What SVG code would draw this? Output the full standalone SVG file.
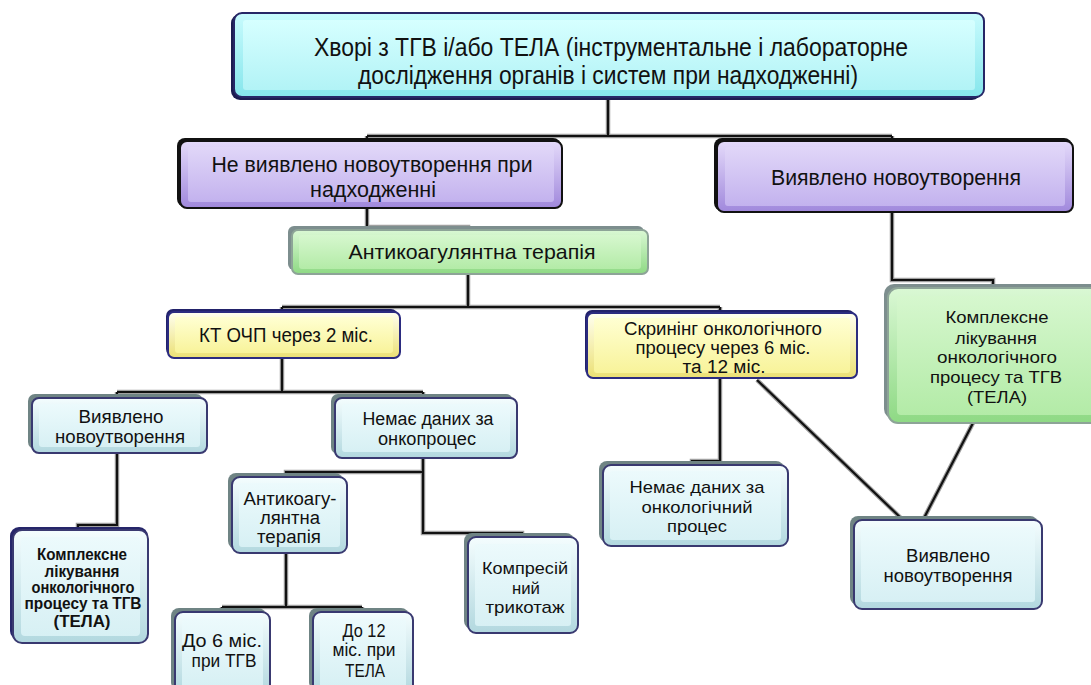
<svg xmlns="http://www.w3.org/2000/svg" width="1091" height="685" viewBox="0 0 1091 685">
<defs>
<linearGradient id="eCy" x1="0" y1="0" x2="0" y2="1"><stop offset="0" stop-color="#c8fbfd"/><stop offset="1" stop-color="#86e6ec"/></linearGradient>
<linearGradient id="fCy" x1="0" y1="0" x2="0" y2="1"><stop offset="0" stop-color="#d6ffff"/><stop offset="1" stop-color="#b2f3f6"/></linearGradient>
<linearGradient id="ePu" x1="0" y1="0" x2="0" y2="1"><stop offset="0" stop-color="#e4dafa"/><stop offset="1" stop-color="#a088dc"/></linearGradient>
<linearGradient id="fPu" x1="0" y1="0" x2="0" y2="1"><stop offset="0" stop-color="#e0d6f8"/><stop offset="1" stop-color="#c3b2ee"/></linearGradient>
<linearGradient id="eGr" x1="0" y1="0" x2="0" y2="1"><stop offset="0" stop-color="#daf8d4"/><stop offset="1" stop-color="#8ed984"/></linearGradient>
<linearGradient id="fGr" x1="0" y1="0" x2="0" y2="1"><stop offset="0" stop-color="#d6f7ce"/><stop offset="1" stop-color="#b3eba7"/></linearGradient>
<linearGradient id="eYe" x1="0" y1="0" x2="0" y2="1"><stop offset="0" stop-color="#fffff0"/><stop offset="1" stop-color="#ebe074"/></linearGradient>
<linearGradient id="fYe" x1="0" y1="0" x2="0" y2="1"><stop offset="0" stop-color="#ffffd2"/><stop offset="1" stop-color="#f8f39a"/></linearGradient>
<linearGradient id="eBl" x1="0" y1="0" x2="0" y2="1"><stop offset="0" stop-color="#f4fdfe"/><stop offset="1" stop-color="#b2d8df"/></linearGradient>
<linearGradient id="fBl" x1="0" y1="0" x2="0" y2="1"><stop offset="0" stop-color="#ecfafc"/><stop offset="1" stop-color="#d7f0f4"/></linearGradient>
</defs>
<style>
text{font-family:"Liberation Sans",Arial,sans-serif;fill:#111;text-anchor:middle}
.t26{font-size:26px}.t22{font-size:22px}.t21{font-size:21px}.t20{font-size:20px}.t19{font-size:19px}.t18{font-size:18px}.t17{font-size:17px}.tb{font-size:16px;font-weight:bold}
.o{stroke-width:2}
.f{stroke:none}
.cy .o{fill:url(#eCy);stroke:#262666}.cy .f{fill:url(#fCy)}.cy .sh{fill:#1c1c50}
.pu .o{fill:url(#ePu);stroke:#111}.pu .f{fill:url(#fPu)}.pu .sh{fill:#111}
.gr .o{fill:url(#eGr);stroke:#8da497}.gr .f{fill:url(#fGr)}.gr .sh{fill:#7d8e8e}
.ye .o{fill:url(#eYe);stroke:#2b2b80}.ye .f{fill:url(#fYe)}.ye .sh{fill:#22226a}
.bl .o{fill:url(#eBl);stroke:#393970}.bl .f{fill:url(#fBl)}.bl .sh{fill:#6f8484}
.nv .sh{fill:#26266a}
#connectors .u{fill:none;stroke:#a0a0a0;stroke-width:4.5}
#connectors .m{fill:none;stroke:#111;stroke-width:2.2}
</style>
<rect width="1091" height="685" fill="#fff"/>
<g id="connectors">
<path class="u" d="M608 97V136M367 136H892M367 136V141M892 136V141M367 208V227H468V230M468 274V307M282 307H720M282 307V312M720 307V313M892 212V280H993V288M282 358V392M117 392H423M117 392V398M423 392V398M117 453V525H78V530M423 458V533H522V537M423 472H286V477M286 553V607M222 607H362M222 607V612M362 607V612M720 378V461H692V465M757 380L903 520M973 423L923 520"/>
<path class="m" d="M608 97V136M367 136H892M367 136V141M892 136V141M367 208V227H468V230M468 274V307M282 307H720M282 307V312M720 307V313M892 212V280H993V288M282 358V392M117 392H423M117 392V398M423 392V398M117 453V525H78V530M423 458V533H522V537M423 472H286V477M286 553V607M222 607H362M222 607V612M362 607V612M720 378V461H692V465M757 380L903 520M973 423L923 520"/>
</g>
<g id="n-top" class="cy">
<rect class="sh" x="231" y="14" width="750" height="86" rx="9"/>
<rect class="o" x="234" y="13" width="750" height="84" rx="8"/>
<rect class="f" x="243" y="20" width="732" height="70" rx="3"/>
<text class="t26" x="611" y="56" textLength="594" lengthAdjust="spacingAndGlyphs">Хворі з ТГВ і/або ТЕЛА (інструментальне і лабораторне</text>
<text class="t26" x="608" y="84" textLength="500" lengthAdjust="spacingAndGlyphs">дослідження органів і систем при надходженні)</text>
</g>
<g id="n-a" class="pu">
<rect class="sh" x="177" y="138" width="384" height="69" rx="8"/>
<rect class="o" x="180" y="141" width="382" height="67" rx="7"/>
<rect class="f" x="188" y="147" width="366" height="55" rx="3"/>
<text class="t22" x="372" y="172" textLength="321" lengthAdjust="spacingAndGlyphs">Не виявлено новоутворення при</text>
<text class="t22" x="373" y="197" textLength="126" lengthAdjust="spacingAndGlyphs">надходженні</text>
</g>
<g id="n-b" class="pu">
<rect class="sh" x="714" y="138" width="358" height="73" rx="8"/>
<rect class="o" x="717" y="141" width="356" height="71" rx="7"/>
<rect class="f" x="725" y="147" width="340" height="59" rx="3"/>
<text class="t22" x="896" y="185" textLength="250" lengthAdjust="spacingAndGlyphs">Виявлено новоутворення</text>
</g>
<g id="n-anti" class="gr">
<rect class="sh" x="288" y="226" width="356" height="44" rx="6"/>
<rect class="o" x="292" y="230" width="356" height="44" rx="6"/>
<rect class="f" x="299" y="235" width="342" height="34" rx="3"/>
<text class="t21" x="472" y="259" textLength="247" lengthAdjust="spacingAndGlyphs">Антикоагулянтна терапія</text>
</g>
<g id="n-kt" class="ye">
<rect class="sh" x="166" y="309" width="232" height="47" rx="7"/>
<rect class="o" x="168" y="312" width="232" height="46" rx="6"/>
<rect class="f" x="175" y="317" width="218" height="36" rx="3"/>
<text class="t20" x="286" y="342" textLength="174" lengthAdjust="spacingAndGlyphs">КТ ОЧП через 2 міс.</text>
</g>
<g id="n-screen" class="ye">
<rect class="sh" x="585" y="310" width="270" height="66" rx="7"/>
<rect class="o" x="587" y="313" width="270" height="65" rx="6"/>
<rect class="f" x="594" y="318" width="256" height="55" rx="3"/>
<text class="t18" x="723" y="335" textLength="198" lengthAdjust="spacingAndGlyphs">Скринінг онкологічного</text>
<text class="t18" x="723" y="354" textLength="175" lengthAdjust="spacingAndGlyphs">процесу через 6 міс.</text>
<text class="t18" x="724" y="373" textLength="83" lengthAdjust="spacingAndGlyphs">та 12 міс.</text>
</g>
<g id="n-complex-r" class="gr">
<rect class="sh" x="884" y="284" width="234" height="135" rx="10"/>
<rect class="o" x="888" y="288" width="234" height="135" rx="10"/>
<rect class="f" x="897" y="296" width="216" height="119" rx="4"/>
<text class="t17" x="997" y="323" textLength="103" lengthAdjust="spacingAndGlyphs">Комплексне</text>
<text class="t17" x="996" y="344" textLength="82" lengthAdjust="spacingAndGlyphs">лікування</text>
<text class="t17" x="997" y="363" textLength="120" lengthAdjust="spacingAndGlyphs">онкологічного</text>
<text class="t17" x="996" y="383" textLength="132" lengthAdjust="spacingAndGlyphs">процесу та ТГВ</text>
<text class="t17" x="997" y="403" textLength="60" lengthAdjust="spacingAndGlyphs">(ТЕЛА)</text>
</g>
<g id="n-found-l" class="bl">
<rect class="sh" x="28" y="394" width="175" height="55" rx="7"/>
<rect class="o" x="32" y="398" width="175" height="55" rx="7"/>
<rect class="f" x="39" y="404" width="161" height="43" rx="3"/>
<text class="t18" x="121" y="423" textLength="85" lengthAdjust="spacingAndGlyphs">Виявлено</text>
<text class="t18" x="120" y="443" textLength="130" lengthAdjust="spacingAndGlyphs">новоутворення</text>
</g>
<g id="n-nodata" class="bl">
<rect class="sh" x="331" y="394" width="182" height="60" rx="7"/>
<rect class="o" x="335" y="398" width="182" height="60" rx="7"/>
<rect class="f" x="342" y="404" width="168" height="48" rx="3"/>
<text class="t18" x="428" y="425" textLength="131" lengthAdjust="spacingAndGlyphs">Немає даних за</text>
<text class="t18" x="427" y="445" textLength="98" lengthAdjust="spacingAndGlyphs">онкопроцес</text>
</g>
<g id="n-complex-l" class="bl nv">
<rect class="sh" x="10" y="527" width="138" height="113" rx="9"/>
<rect class="o" x="13" y="530" width="135" height="113" rx="9"/>
<rect class="f" x="21" y="537" width="119" height="99" rx="4"/>
<text class="tb" x="82" y="560" textLength="90" lengthAdjust="spacingAndGlyphs">Комплексне</text>
<text class="tb" x="82" y="577" textLength="75" lengthAdjust="spacingAndGlyphs">лікування</text>
<text class="tb" x="83" y="593" textLength="103" lengthAdjust="spacingAndGlyphs">онкологічного</text>
<text class="tb" x="83" y="609" textLength="117" lengthAdjust="spacingAndGlyphs">процесу та ТГВ</text>
<text class="tb" x="82" y="627" textLength="57" lengthAdjust="spacingAndGlyphs">(ТЕЛА)</text>
</g>
<g id="n-anti2" class="bl">
<rect class="sh" x="228" y="473" width="115" height="76" rx="8"/>
<rect class="o" x="232" y="477" width="115" height="76" rx="8"/>
<rect class="f" x="239" y="483" width="101" height="64" rx="3"/>
<text class="t18" x="290" y="505" textLength="93" lengthAdjust="spacingAndGlyphs">Антикоагу-</text>
<text class="t18" x="290" y="524" textLength="60" lengthAdjust="spacingAndGlyphs">лянтна</text>
<text class="t18" x="289" y="543" textLength="64" lengthAdjust="spacingAndGlyphs">терапія</text>
</g>
<g id="n-compr" class="bl">
<rect class="sh" x="464" y="533" width="110" height="96" rx="8"/>
<rect class="o" x="468" y="537" width="110" height="96" rx="8"/>
<rect class="f" x="475" y="544" width="96" height="82" rx="3"/>
<text class="t17" x="525" y="574" textLength="86" lengthAdjust="spacingAndGlyphs">Компресій</text>
<text class="t17" x="526" y="594" textLength="28" lengthAdjust="spacingAndGlyphs">ний</text>
<text class="t17" x="525" y="613" textLength="79" lengthAdjust="spacingAndGlyphs">трикотаж</text>
</g>
<g id="n-6m" class="bl">
<rect class="sh" x="171" y="608" width="95" height="82" rx="8"/>
<rect class="o" x="175" y="612" width="95" height="82" rx="8"/>
<rect class="f" x="182" y="619" width="81" height="68" rx="3"/>
<text class="t19" x="222" y="647" textLength="80" lengthAdjust="spacingAndGlyphs">До 6 міс.</text>
<text class="t19" x="224" y="667" textLength="65" lengthAdjust="spacingAndGlyphs">при ТГВ</text>
</g>
<g id="n-12m" class="bl">
<rect class="sh" x="309" y="608" width="100" height="82" rx="8"/>
<rect class="o" x="313" y="612" width="100" height="82" rx="8"/>
<rect class="f" x="320" y="619" width="86" height="68" rx="3"/>
<text class="t19" x="364" y="637" textLength="43" lengthAdjust="spacingAndGlyphs">До 12</text>
<text class="t19" x="364" y="656" textLength="63" lengthAdjust="spacingAndGlyphs">міс. при</text>
<text class="t19" x="365" y="677" textLength="40" lengthAdjust="spacingAndGlyphs">ТЕЛА</text>
</g>
<g id="n-nodata2" class="bl">
<rect class="sh" x="599" y="461" width="185" height="81" rx="8"/>
<rect class="o" x="603" y="465" width="185" height="81" rx="8"/>
<rect class="f" x="610" y="471" width="171" height="69" rx="3"/>
<text class="t17" x="697" y="493" textLength="135" lengthAdjust="spacingAndGlyphs">Немає даних за</text>
<text class="t17" x="697" y="513" textLength="111" lengthAdjust="spacingAndGlyphs">онкологічний</text>
<text class="t17" x="697" y="532" textLength="60" lengthAdjust="spacingAndGlyphs">процес</text>
</g>
<g id="n-found-r" class="bl">
<rect class="sh" x="850" y="516" width="188" height="89" rx="8"/>
<rect class="o" x="854" y="520" width="188" height="89" rx="8"/>
<rect class="f" x="861" y="527" width="174" height="75" rx="3"/>
<text class="t18" x="948" y="562" textLength="84" lengthAdjust="spacingAndGlyphs">Виявлено</text>
<text class="t18" x="948" y="582" textLength="129" lengthAdjust="spacingAndGlyphs">новоутворення</text>
</g>
</svg>
